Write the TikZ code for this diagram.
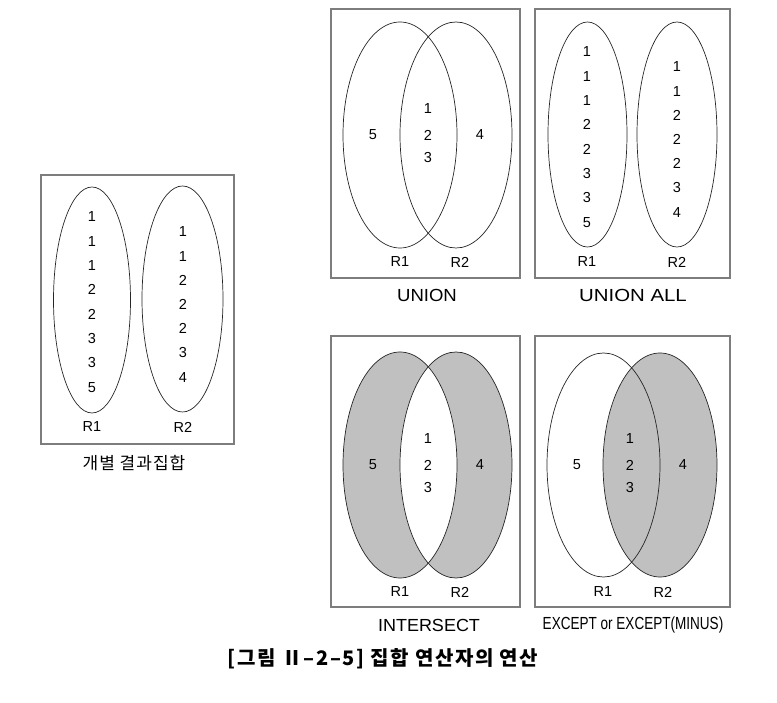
\documentclass[tikz,border=0pt]{standalone}
\usepackage{fontspec}
\setmainfont{Liberation Sans}
\newfontfamily\kr{Noto Sans CJK KR}
\definecolor{framegray}{RGB}{125,125,125}
\definecolor{setgray}{RGB}{192,192,192}
\tikzset{
  frame/.style={draw=framegray, line width=1.3pt},
  setline/.style={draw=black!85, line width=0.7pt},
  num/.style={font=\fontsize{14.5}{16}\selectfont, inner sep=0pt},
  setname/.style={font=\fontsize{14.5}{16}\selectfont, inner sep=0pt},
  opname/.style={font=\fontsize{17.5}{19}\selectfont, inner sep=0pt, xscale=1.06},
}
\begin{document}
\begin{tikzpicture}[x=1pt,y=-1pt]
\useasboundingbox (0,0) rectangle (777,703);

% individual result sets
\draw[frame] (41,175) rectangle (234,444);
\draw[setline] (92,300) ellipse (38.5 and 113);
\draw[setline] (182.5,299) ellipse (40.5 and 113);
\foreach \v [count=\i] in {1,1,1,2,2,3,3,5}
  \node[num] (sa\i) at (92,{217+(\i-1)*24.3}) {\v};
\foreach \v [count=\i] in {1,1,2,2,2,3,4}
  \node[num] (sb\i) at (183,{232+(\i-1)*24.2}) {\v};
\node[setname] (sr1) at (92,427) {R1};
\node[setname] (sr2) at (183,427) {R2};
\node[font=\kr\fontsize{17}{19}\selectfont\addfontfeature{LetterSpace=6}, inner sep=0pt] (scap) at (134,463) {개별 결과집합};

% union
\draw[frame] (331,9) rectangle (520,278);
\draw[setline] (400,135) ellipse (57 and 113);
\draw[setline] (456,135) ellipse (56 and 113);
\node[num] (u5) at (373,135) {5};
\node[num] (u1) at (428,109) {1};
\node[num] (u2) at (428,135) {2};
\node[num] (u3) at (428,158) {3};
\node[num] (u4) at (480,135) {4};
\node[setname] (ur1) at (400,262) {R1};
\node[setname] (ur2) at (460,262) {R2};
\node[opname] (ucap) at (427,295) {UNION};

% union all
\draw[frame] (535,9) rectangle (730,278);
\draw[setline] (587.5,134.5) ellipse (39.5 and 112.5);
\draw[setline] (677,134.5) ellipse (40 and 112.5);
\foreach \v [count=\i] in {1,1,1,2,2,3,3,5}
  \node[num] (aa\i) at (587,{52+(\i-1)*24.3}) {\v};
\foreach \v [count=\i] in {1,1,2,2,2,3,4}
  \node[num] (ab\i) at (677,{67+(\i-1)*24.2}) {\v};
\node[setname] (ar1) at (587,262) {R1};
\node[setname] (ar2) at (677,262) {R2};
\node[opname, xscale=1.1] (acap) at (633,295) {UNION ALL};

% intersect
\draw[frame] (331,336) rectangle (520,607);
\begin{scope}
  \fill[setgray] (400,465) ellipse (57 and 113);
  \fill[setgray] (456,465) ellipse (56 and 113);
  \clip (400,465) ellipse (57 and 113);
  \fill[white] (456,465) ellipse (56 and 113);
\end{scope}
\draw[setline] (400,465) ellipse (57 and 113);
\draw[setline] (456,465) ellipse (56 and 113);
\node[num] (i5) at (373,465) {5};
\node[num] (i1) at (428,439) {1};
\node[num] (i2) at (428,465) {2};
\node[num] (i3) at (428,488) {3};
\node[num] (i4) at (480,465) {4};
\node[setname] (ir1) at (400,592) {R1};
\node[setname] (ir2) at (460,592) {R2};
\node[opname, xscale=0.97] (icap) at (429,625) {INTERSECT};

% except
\draw[frame] (535,336) rectangle (730,607);
\fill[setgray] (660,465) ellipse (57 and 112);
\draw[setline] (603.5,465) ellipse (56.5 and 112);
\draw[setline] (660,465) ellipse (57 and 112);
\node[num] (e5) at (577,465) {5};
\node[num] (e1) at (630,439) {1};
\node[num] (e2) at (630,465) {2};
\node[num] (e3) at (630,488) {3};
\node[num] (e4) at (683,465) {4};
\node[setname] (er1) at (603,592) {R1};
\node[setname] (er2) at (663,592) {R2};
\node[opname, xscale=0.73] (ecap) at (633,625) {EXCEPT or EXCEPT(MINUS)};

\node[font=\kr\bfseries\fontsize{20}{22}\selectfont\addfontfeature{LetterSpace=8}, inner sep=0pt] (fig) at (383,659) {[그림 Ⅱ–2–5] 집합 연산자의 연산};
\end{tikzpicture}
\end{document}
